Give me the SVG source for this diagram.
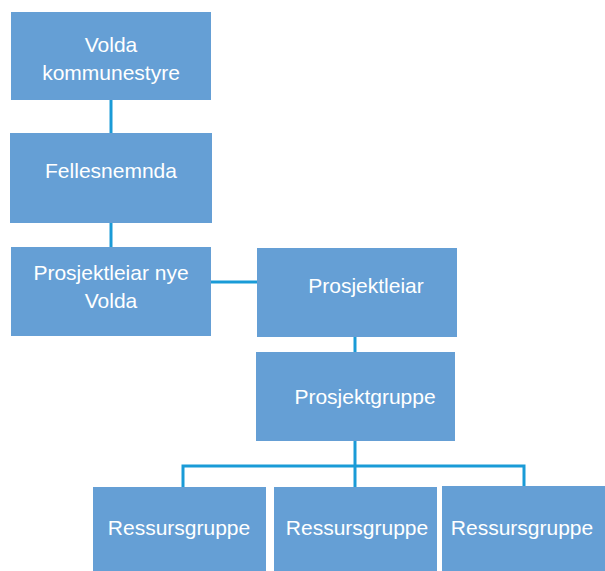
<svg xmlns="http://www.w3.org/2000/svg" width="605" height="571" viewBox="0 0 605 571">
<style>
.box{fill:#659fd5}
.t{fill:#ffffff;font-family:"Liberation Sans",Arial,sans-serif;font-size:21px;text-anchor:middle}
.c{stroke:#1a9bd7;stroke-width:3;fill:none}
</style>
<rect width="605" height="571" fill="#ffffff"/>
<g id="connectors">
<line class="c" x1="111" y1="100" x2="111" y2="133"/>
<line class="c" x1="111" y1="223" x2="111" y2="247"/>
<line class="c" x1="211" y1="282" x2="257" y2="282"/>
<line class="c" x1="355" y1="337" x2="355" y2="352"/>
<line class="c" x1="355" y1="441" x2="355" y2="487"/>
<polyline class="c" points="183,487 183,466 524,466 524,486"/>
</g>
<g id="n1"><rect class="box" x="11" y="12" width="200" height="88"/><text class="t" x="111" y="52">Volda</text><text class="t" x="111" y="80">kommunestyre</text></g>
<g id="n2"><rect class="box" x="10" y="133" width="202" height="90"/><text class="t" x="111" y="178">Fellesnemnda</text></g>
<g id="n3"><rect class="box" x="11" y="247" width="200" height="89"/><text class="t" x="111" y="280">Prosjektleiar nye</text><text class="t" x="111" y="308">Volda</text></g>
<g id="n4"><rect class="box" x="257" y="248" width="200" height="89"/><text class="t" x="366" y="293">Prosjektleiar</text></g>
<g id="n5"><rect class="box" x="256" y="352" width="199" height="89"/><text class="t" x="365" y="404">Prosjektgruppe</text></g>
<g id="n6"><rect class="box" x="93" y="487" width="173" height="84"/><text class="t" x="179" y="535">Ressursgruppe</text></g>
<g id="n7"><rect class="box" x="274" y="487" width="163" height="84"/><text class="t" x="357" y="535">Ressursgruppe</text></g>
<g id="n8"><rect class="box" x="442" y="486" width="163" height="85"/><text class="t" x="522" y="535">Ressursgruppe</text></g>
</svg>
